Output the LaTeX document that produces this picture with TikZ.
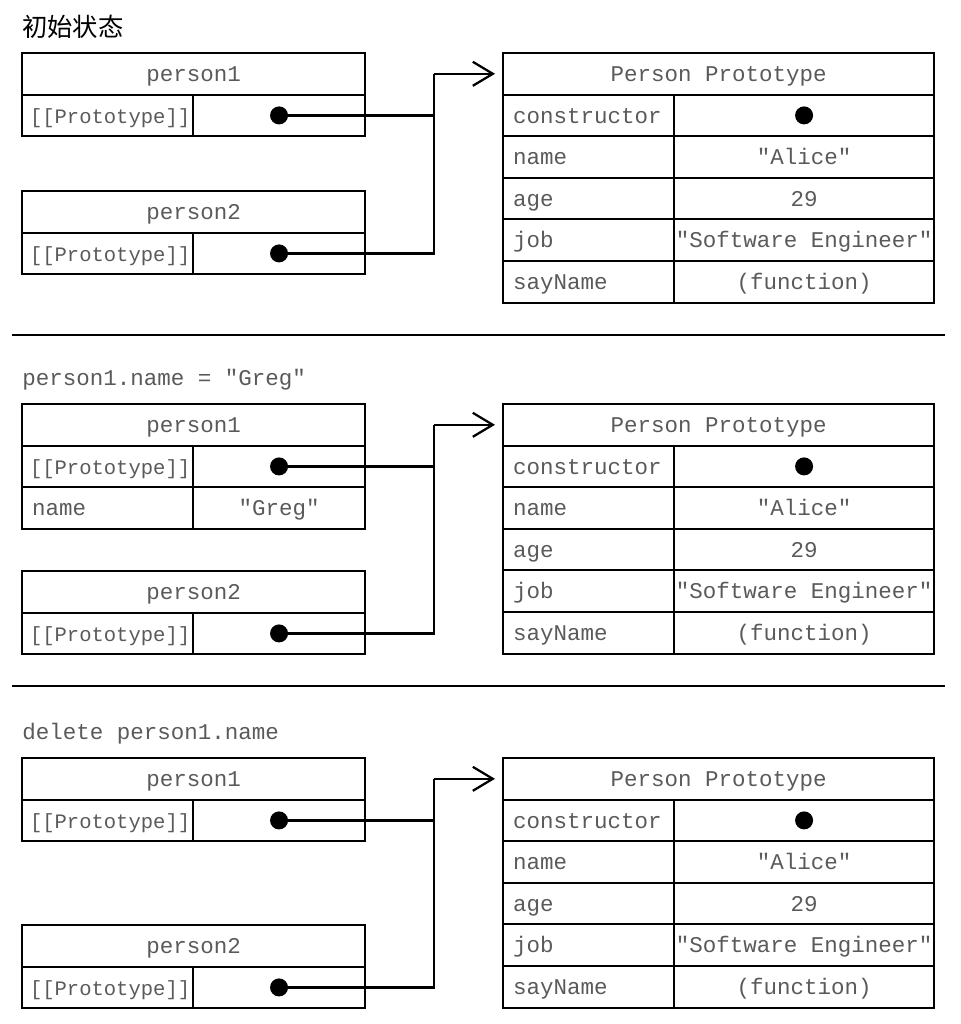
\documentclass[tikz,border=0pt]{standalone}
\usepackage{fontspec}
\newfontfamily\codefont{Liberation Mono}
\newfontfamily\cjkfont{Noto Sans CJK SC}
\usetikzlibrary{arrows.meta,positioning}
\definecolor{ink}{RGB}{90,90,90}
\tikzset{
  >={Straight Barb[length=5mm,width=6mm]},
  cell/.style={draw,line width=1.3pt,inner sep=0pt,outer sep=0pt,minimum height=1.04cm,
    font=\codefont\fontsize{16}{19}\selectfont,text=ink,
    text height=14pt,text depth=3pt},
  objhead/.style={cell,minimum width=8.575cm},
  protohead/.style={cell,minimum width=10.775cm},
  keycell/.style={cell,text width=3.775cm,inner xsep=0.25cm,align=left},
  slotkey/.style={keycell,text width=3.875cm,inner xsep=0.2cm,
    font=\codefont\fontsize{14.6}{17}\selectfont},
  valcell/.style={cell,minimum width=#1},
  valcell/.default=4.3cm,
  ptr/.style={circle,fill=black,inner sep=0pt,minimum size=0.45cm},
  link/.style={line width=1.6pt},
  rule/.style={line width=2.1pt},
  cmdtext/.style={font=\codefont\fontsize{16}{19}\selectfont,text=ink,anchor=west,inner sep=0pt},
  heading/.style={font=\cjkfont\fontsize{18}{22}\selectfont,anchor=west,inner sep=0pt},
}
\begin{document}
\begin{tikzpicture}[x=0.025cm,y=-0.025cm]
  \useasboundingbox (0,0) rectangle (960,1024);
  % captions of the three states
  \node[heading] (state1) at (22,27) {初始状态};
  \node[cmdtext] (state2) at (22,380) {person1.name = "Greg"};
  \node[cmdtext] (state3) at (22,734) {delete person1.name};
  \draw[rule] (12,335) -- (945,335);
  \draw[rule] (12,686) -- (945,686);
  % instances
  \foreach \n/\x/\t in {a1/person1/53,a2/person2/191,b1/person1/404,b2/person2/571,c1/person1/758,c2/person2/925}{
    \node[objhead,anchor=north west] (\n h) at (22,\t) {\x};
    \node[slotkey,anchor=north west] (\n k) at (\n h.south west) {[[Prototype]]};
    \node[valcell,right=0pt of \n k] (\n v) {};
    \node[ptr] (\n d) at (\n v) {};
  }
  \node[keycell,below=0pt of b1k] (b1n) {name};
  \node[valcell,right=0pt of b1n] (b1g) {"Greg"};
  % prototype tables
  \foreach \p/\t in {a/53,b/404,c/758}{
    \node[protohead,anchor=north west] (\p h) at (503,\t) {Person Prototype};
    \foreach \k/\v [count=\i] in {constructor/,name/"Alice",age/29,job/"Software Engineer",sayName/(function)}{
      \node[keycell,anchor=north west] (\p k\i) at (503,{\t+41.6*\i}) {\k};
      \node[valcell=6.5cm,right=0pt of \p k\i] (\p v\i) {\v};
    }
    \node[ptr] (\p c) at (\p v1) {};
    \coordinate (\p bend) at (434,0 |- \p h.west);
    \draw[link] (\p 1d) -| (\p bend);
    \draw[link] (\p 2d) -| (\p bend);
    \draw[link,->,shorten >=0.2cm] (\p bend) -- (\p h.west);
  }
\end{tikzpicture}
\end{document}
